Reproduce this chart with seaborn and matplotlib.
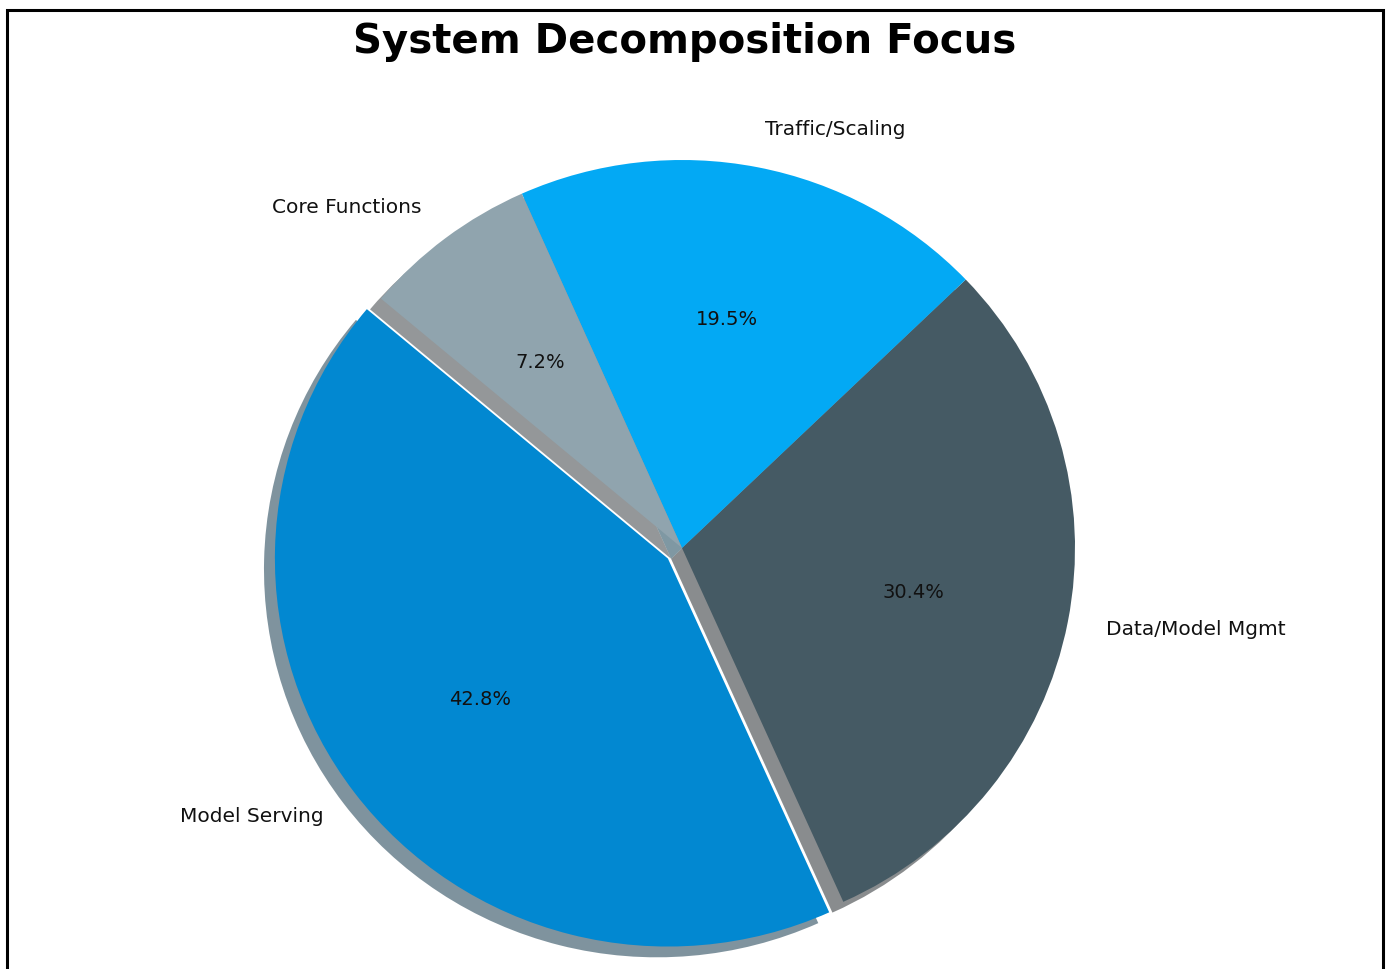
import matplotlib
matplotlib.use("Agg")
import matplotlib.pyplot as plt
import matplotlib.patches as mpatches
import seaborn as sns

# Share of effort per subsystem
categories = ["Model Serving", "Data/Model Mgmt", "Traffic/Scaling", "Core Functions"]
shares = [42.8, 30.4, 19.5, 7.2]
palette_hex = ["#0288D1", "#455A64", "#03A9F4", "#90A4AE"]
explode = [0.045, 0, 0, 0]
title = "System Decomposition Focus"

sns.set_theme(style="white")
plt.rcParams["font.family"] = ["DejaVu Sans"]

W, H, DPI = 1389, 969, 100
fig = plt.figure(figsize=(W / DPI, H / DPI), dpi=DPI)
ax = fig.add_axes([0, 0, 1, 1])

colors = sns.color_palette(palette_hex)
wedges, label_texts, pct_texts = ax.pie(
    shares, labels=categories, colors=colors, explode=explode,
    autopct="%1.1f%%", startangle=140, shadow=True,
    wedgeprops={"linewidth": 0, "edgecolor": "none"},
    textprops={"fontsize": 14.5, "color": "#111111"})
for t in pct_texts:
    t.set_fontsize(14)

# place the pie: centre (cx, cy) in pixels from top-left, radii rx, ry
cx, cy, rx, ry = 682, 548, 393, 388
ax.set_aspect("auto")
ax.set_xlim((0 - cx) / rx, (W - cx) / rx)
ax.set_ylim((cy - H) / ry, cy / ry)
ax.axis("off")

fig.text(685 / W, 1 - 53 / H, title, ha="center", va="baseline",
         fontsize=29, fontweight="bold", color="black")

# outer frame
frame = mpatches.Rectangle((7.5 / W, -0.05), (1382.5 - 7.5) / W, 1.05 - 10 / H,
                           transform=fig.transFigure, fill=False,
                           edgecolor="black", linewidth=2.2)
fig.patches.append(frame)

fig.savefig("out.png", dpi=DPI)
